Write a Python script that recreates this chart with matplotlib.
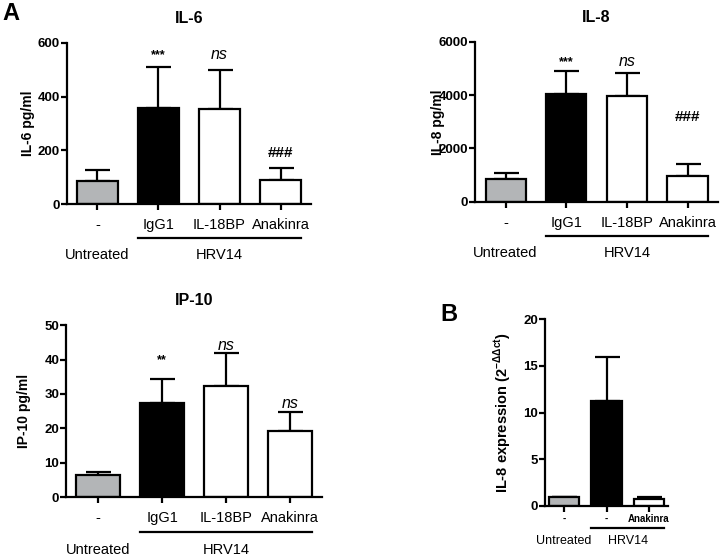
import numpy as np
import matplotlib.pyplot as plt
import matplotlib.transforms as mtransforms

plt.rcParams['font.family'] = ['Liberation Sans', 'DejaVu Sans']
plt.rcParams['mathtext.fontset'] = 'custom'
plt.rcParams['mathtext.rm'] = 'Liberation Sans'
plt.rcParams['mathtext.bf'] = 'Liberation Sans:bold'

# data
groups = ['-', 'IgG1', 'IL-18BP', 'Anakinra']
il6_mean = [85, 358, 352, 90]
il6_top = [125, 510, 500, 135]
il6_marks = ['', '***', 'ns', '###']
il6_mark_y = [0, 555, 555, 190]

il8_mean = [850, 4050, 3970, 980]
il8_top = [1080, 4900, 4820, 1400]
il8_marks = ['', '***', 'ns', '###']
il8_mark_y = [0, 5250, 5250, 3190]

ip10_mean = [6.5, 27.5, 32.2, 19.2]
ip10_top = [7.3, 34.3, 41.8, 24.7]
ip10_marks = ['', '**', 'ns', 'ns']
ip10_mark_y = [0, 39.8, 44.2, 27.3]

b_groups = ['-', '-', 'Anakinra']
b_mean = [1.0, 11.2, 0.7]
b_top = [1.0, 15.9, 0.95]

colors4 = ['#b3b5b7', 'black', 'white', 'white']
colors3 = ['#b3b5b7', 'black', 'white']

fig = plt.figure(figsize=(7.2, 5.56), dpi=100)
LW = 1.6


def offset(ax, pts):
    return ax.get_xaxis_transform() + mtransforms.ScaledTranslation(0, -pts / 72, fig.dpi_scale_trans)


def panel(rect, labels, mean, top, colors, ylim, yticks, ylabel, title=None,
          marks=None, mark_y=None, width=0.66, tick_fs=10.5, tick_bold=False,
          lab_x=-0.13, tick_pad=6, line_pts=24.5, grp_pts=37, grp_fs=10.5,
          xlim=(-0.5, None), line_from=1):
    ax = fig.add_axes(rect)
    x = np.arange(len(mean))
    ax.bar(x, mean, width=width, color=colors, edgecolor='black', linewidth=LW, zorder=2)
    err = np.array(top) - np.array(mean)
    ax.errorbar(x, mean, yerr=[np.zeros(len(mean)), err], fmt='none', ecolor='black',
                elinewidth=LW, capsize=9, capthick=LW, zorder=1)
    ax.set_xlim(xlim[0], len(mean) - 0.5 if xlim[1] is None else xlim[1])
    ax.set_ylim(*ylim)
    ax.set_yticks(yticks)
    ax.set_xticks(x)
    ax.set_xticklabels(labels, fontsize=tick_fs, fontweight='bold' if tick_bold else 'normal')
    for lab in ax.get_yticklabels():
        lab.set_fontweight('bold')
        lab.set_fontsize(9.5)
    ax.tick_params(axis='both', width=LW, length=4, direction='out')
    ax.tick_params(axis='x', pad=tick_pad)
    ax.tick_params(axis='y', pad=1)
    for s in ['top', 'right']:
        ax.spines[s].set_visible(False)
    for s in ['left', 'bottom']:
        ax.spines[s].set_linewidth(LW)
    ax.set_ylabel(ylabel, fontsize=10 if title else 10.5, fontweight='bold')
    ax.yaxis.set_label_coords(lab_x, 0.5)
    if title:
        ax.set_title(title, fontsize=11.5, fontweight='bold', pad=14.5)
    if marks:
        for i, (m, my) in enumerate(zip(marks, mark_y)):
            if not m:
                continue
            if m == 'ns':
                ax.text(i, my, m, ha='center', va='center', fontsize=11.5, style='italic')
            elif m.startswith('#'):
                ax.text(i, my, m, ha='center', va='center', fontsize=11, fontweight='bold')
            else:
                ax.text(i, my, m, ha='center', va='center', fontsize=9, fontweight='bold')
    # group line and group labels under the axis
    ax.plot([line_from - width / 2, len(mean) - 1 + width / 2], [0, 0], color='black',
            lw=LW, transform=offset(ax, line_pts), clip_on=False)
    ax.text(0, 0, 'Untreated', ha='center', va='center', fontsize=grp_fs,
            transform=offset(ax, grp_pts))
    ax.text((line_from + len(mean) - 1) / 2, 0, 'HRV14', ha='center', va='center',
            fontsize=grp_fs, transform=offset(ax, grp_pts))
    return ax


ax1 = panel([0.093, 0.633, 0.339, 0.290], groups, il6_mean, il6_top, colors4,
            (0, 600), [0, 200, 400, 600], 'IL-6 pg/ml', 'IL-6', il6_marks, il6_mark_y,
            lab_x=-0.131)
ax2 = panel([0.660, 0.637, 0.337, 0.288], groups, il8_mean, il8_top, colors4,
            (0, 6000), [0, 2000, 4000, 6000], 'IL-8 pg/ml', 'IL-8', il8_marks, il8_mark_y,
            lab_x=-0.123)
ax3 = panel([0.092, 0.106, 0.355, 0.309], groups, ip10_mean, ip10_top, colors4,
            (0, 50), [0, 10, 20, 30, 40, 50], 'IP-10 pg/ml', 'IP-10', ip10_marks, ip10_mark_y,
            width=0.68, lab_x=-0.137, line_pts=25, grp_pts=38)
ax4 = panel([0.757, 0.090, 0.171, 0.336], b_groups, b_mean, b_top, colors3,
            (0, 20), [0, 5, 10, 15, 20], r'IL-8 expression (2$^{\mathbf{-\Delta\Delta ct}}$)',
            None, width=0.72, tick_fs=7, tick_bold=True, lab_x=-0.25, tick_pad=2,
            line_pts=16, grp_pts=25, grp_fs=9, xlim=(-0.45, 2.45))

fig.text(0.003, 0.975, 'A', fontsize=17, fontweight='bold', va='center', ha='left')
fig.text(0.612, 0.435, 'B', fontsize=17, fontweight='bold', va='center', ha='left')

fig.savefig('out.png', dpi=100)
